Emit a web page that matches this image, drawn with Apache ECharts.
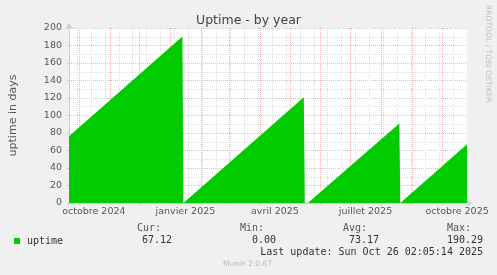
<!DOCTYPE html>
<html><head><meta charset="utf-8">
<script src="https://cdn.jsdelivr.net/npm/echarts@6/dist/echarts.min.js"></script>
<style>html,body{margin:0;padding:0;background:#f0f0f0}#c{width:497px;height:275px}</style>
</head><body><div id="c"></div>
<script>
// ---- data ----
const chartTitle = 'Uptime - by year';
const yAxisName = 'uptime in days';
const seriesName = 'uptime';
const pointDates = ['2024-09-21','2025-01-13','2025-01-14','2025-05-15','2025-05-16','2025-05-19','2025-08-19','2025-08-20','2025-10-26'];
const pointValues = [76.3, 190.29, 0, 121, 0, 0, 91, 0, 67.12];
const axisStart = '2024-09-21';
const axisEnd = '2025-10-26';
const monthStarts = ['2024-10-01','2024-11-01','2024-12-01','2025-01-01','2025-02-01','2025-03-01','2025-04-01','2025-05-01','2025-06-01','2025-07-01','2025-08-01','2025-09-01','2025-10-01'];
const minorDates = ['2024-09-29','2024-10-13','2024-10-27','2024-11-10','2024-11-24','2024-12-08','2024-12-22','2025-01-05','2025-01-19','2025-02-02','2025-02-16','2025-03-02','2025-03-16','2025-03-30','2025-04-13','2025-04-27','2025-05-11','2025-05-25','2025-06-08','2025-06-22','2025-07-06','2025-07-20','2025-08-03','2025-08-17','2025-08-31','2025-09-14','2025-09-28','2025-10-12'];
const labelDates = ['2024-10-16','2025-01-16','2025-04-16','2025-07-16','2025-10-16'];
const labelTexts = ['octobre 2024','janvier 2025','avril 2025','juillet 2025','octobre 2025'];
const yMin = 0, yMax = 200, yStep = 20;
const statHeads = ['Cur:','Min:','Avg:','Max:'];
const statValues = ['67.12','0.00','73.17','190.29'];
const lastUpdate = 'Last update: Sun Oct 26 02:05:14 2025';
const footer = 'Munin 2.0.67';
const watermark = 'RRDTOOL / TOBI OETIKER';

// ---- build ----
const ts = s => Date.parse(s + 'T00:00:00Z');
const seriesData = pointDates.map((d, i) => [ts(d), pointValues[i]]);
const labelTs = labelDates.map(ts);
const GREEN = '#00cc00';
const RED = '#efb4b4';
const GRAY = '#dedede';
const AXIS = '#c5cbf3';
const mono = 'DejaVu Sans Mono';
const sans = 'DejaVu Sans';

const headX = [137, 240, 343, 447];
const valX = [142, 252, 349, 447];

const chart = echarts.init(document.getElementById('c'), null, {renderer: 'canvas'});
chart.setOption({
  animation: false,
  backgroundColor: '#f0f0f0',
  title: {
    text: chartTitle, left: 'center', top: 9,
    textStyle: {fontFamily: sans, fontSize: 12.5, fontWeight: 'normal', color: '#444'}
  },
  legend: {
    data: [seriesName], left: 14, top: 236, padding: 0, icon: 'rect', itemWidth: 6, itemHeight: 6,
    textStyle: {fontFamily: mono, fontSize: 10, color: '#333', padding: [0, 0, 0, 2]}
  },
  grid: {left: 67, top: 28, width: 400, height: 175, backgroundColor: '#fff', show: true, borderWidth: 0},
  xAxis: [
    {
      type: 'value', min: ts(axisStart), max: ts(axisEnd), position: 'bottom',
      axisLine: {show: false, onZero: false}, axisLabel: {show: false},
      axisTick: {show: false, customValues: minorDates.map(ts)},
      splitLine: {show: true, lineStyle: {color: GRAY, type: [1, 1], width: 1}}
    },
    {
      type: 'value', min: ts(axisStart), max: ts(axisEnd), position: 'bottom',
      axisLine: {show: true, onZero: false, lineStyle: {color: AXIS}, symbol: ['none', 'arrow'], symbolSize: [6, 6], symbolOffset: [0, 5]},
      axisTick: {show: true, length: 2, lineStyle: {color: RED}, customValues: monthStarts.map(ts)},
      axisLabel: {
        customValues: labelTs, margin: 4, fontFamily: sans, fontSize: 9.5, color: '#555',
        formatter: v => labelTexts[labelTs.indexOf(v)] || ''
      },
      splitLine: {show: true, lineStyle: {color: RED, type: [1, 1], width: 1}}
    }
  ],
  yAxis: {
    type: 'value', min: yMin, max: yMax, interval: yStep,
    name: yAxisName, nameLocation: 'middle', nameGap: 50, nameRotate: 90,
    nameTextStyle: {fontFamily: sans, fontSize: 11, color: '#555'},
    axisLine: {show: true, lineStyle: {color: AXIS}, symbol: ['none', 'arrow'], symbolSize: [6, 6], symbolOffset: [0, 5]},
    axisTick: {show: true, length: 2, lineStyle: {color: RED}},
    axisLabel: {margin: 7, fontFamily: sans, fontSize: 9.5, color: '#555'},
    splitLine: {show: true, lineStyle: {color: RED, type: [1, 1], width: 1}},
    minorTick: {show: false, splitNumber: 2},
    minorSplitLine: {show: true, lineStyle: {color: GRAY, type: [1, 1], width: 1}}
  },
  series: [{
    name: seriesName, type: 'line', xAxisIndex: 1, data: seriesData, symbol: 'none',
    color: GREEN, lineStyle: {width: 0}, areaStyle: {color: GREEN, opacity: 1}, z: 3
  }],
  graphic: [
    ...statHeads.map((t, i) => ({type: 'text', left: headX[i], top: 223, style: {text: t, font: '10px ' + mono, fill: '#555'}, silent: true})),
    ...statValues.map((t, i) => ({type: 'text', left: valX[i], top: 235, style: {text: t, font: '10px ' + mono, fill: '#333'}, silent: true})),
    {type: 'text', right: 14, top: 247, style: {text: lastUpdate, font: '10px ' + mono, fill: '#333'}, silent: true},
    {type: 'text', left: 223, top: 260, style: {text: footer, font: '7.5px ' + sans, fill: '#bbb'}, silent: true},
    {type: 'text', x: 488, y: 5, rotation: -Math.PI / 2, style: {text: watermark, font: '7.6px ' + sans, fill: '#c0c0c0', textAlign: 'left', textVerticalAlign: 'middle'}, silent: true}
  ]
});
</script></body></html>
